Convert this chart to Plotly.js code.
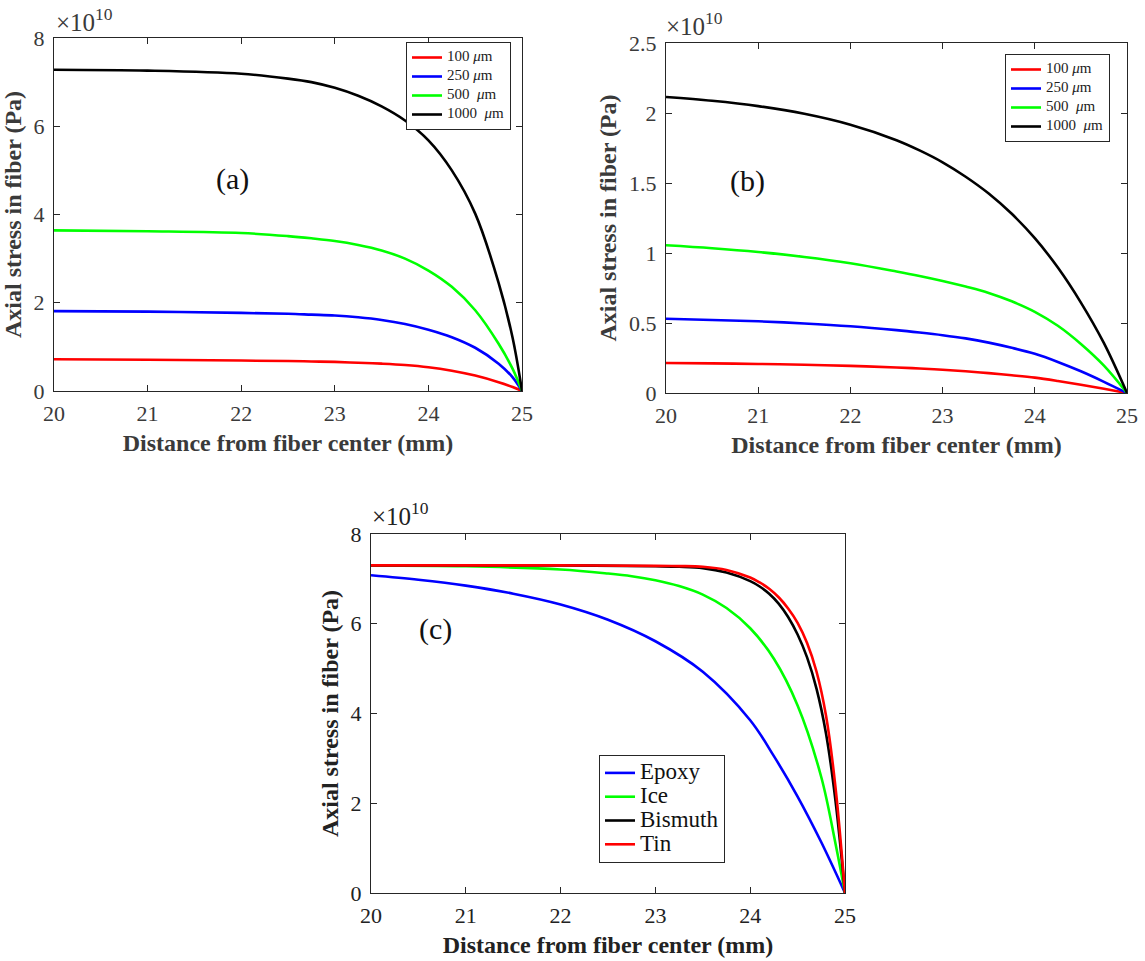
<!DOCTYPE html>
<html>
<head>
<meta charset="utf-8">
<script src="https://cdn.plot.ly/plotly-3.0.1.min.js"></script>
<style>html,body{margin:0;padding:0;background:#fff;}#chart{width:1145px;height:961px;}</style>
</head>
<body>
<div id="chart"></div>
<script>
// Axial stress in units of 1e10 Pa, x = distance from fiber center (mm)

// Panel (a)
const xA = [20, 21, 22, 22.5, 22.75, 23, 23.25, 23.5, 23.75, 24, 24.25, 24.5, 24.75, 24.9, 25];
const a100  = [0.72, 0.71, 0.69, 0.68, 0.67, 0.66, 0.64, 0.62, 0.59, 0.54, 0.46, 0.35, 0.20, 0.09, 0];
const a250  = [1.81, 1.80, 1.77, 1.75, 1.73, 1.71, 1.67, 1.61, 1.52, 1.39, 1.22, 0.98, 0.62, 0.31, 0];
const a500  = [3.64, 3.62, 3.58, 3.51, 3.46, 3.40, 3.31, 3.185, 3.00, 2.73, 2.36, 1.83, 1.07, 0.50, 0];
const a1000 = [7.28, 7.26, 7.19, 7.08, 7.00, 6.87, 6.69, 6.45, 6.13, 5.68, 5.00, 4.02, 2.45, 1.20, 0];

// Panel (b)
const xB = [20, 20.5, 21, 21.5, 22, 22.5, 22.75, 23, 23.25, 23.5, 23.75, 24, 24.25, 24.5, 24.75, 25];
const b100  = [0.214, 0.2115, 0.2075, 0.2015, 0.1935, 0.1825, 0.175, 0.166, 0.155, 0.142, 0.127, 0.110, 0.086, 0.059, 0.030, 0];
const b250  = [0.53, 0.522, 0.512, 0.497, 0.477, 0.449, 0.432, 0.413, 0.39, 0.36, 0.323, 0.28, 0.222, 0.155, 0.08, 0];
const b500  = [1.055, 1.034, 1.007, 0.972, 0.927, 0.868, 0.836, 0.80, 0.76, 0.715, 0.655, 0.58, 0.48, 0.35, 0.195, 0];
const b1000 = [2.114, 2.087, 2.049, 1.994, 1.916, 1.806, 1.733, 1.648, 1.545, 1.425, 1.28, 1.106, 0.896, 0.646, 0.356, 0];

// Panel (c)
const xEpoxy = [20, 20.5, 21, 21.5, 22, 22.5, 23, 23.5, 24, 24.25, 24.5, 24.75, 25];
const epoxy  = [7.08, 6.98, 6.85, 6.67, 6.43, 6.09, 5.61, 4.93, 3.85, 3.05, 2.15, 1.13, 0];
const xIce = [20, 21, 22, 22.5, 22.75, 23, 23.25, 23.5, 23.75, 24, 24.25, 24.5, 24.75, 24.9, 25];
const ice  = [7.30, 7.28, 7.21, 7.12, 7.06, 6.97, 6.84, 6.65, 6.35, 5.90, 5.22, 4.18, 2.58, 1.10, 0];
const xMetal = [20, 21, 22, 23, 23.25, 23.5, 23.75, 24, 24.1, 24.2, 24.3, 24.4, 24.5, 24.6, 24.7, 24.8, 24.9, 25];
const bismuth = [7.30, 7.30, 7.30, 7.28, 7.27, 7.24, 7.14, 6.95, 6.83, 6.67, 6.45, 6.15, 5.76, 5.25, 4.55, 3.55, 2.05, 0];
const tin     = [7.30, 7.30, 7.30, 7.29, 7.285, 7.27, 7.20, 7.03, 6.92, 6.78, 6.59, 6.34, 6.02, 5.57, 4.93, 3.95, 2.35, 0];

const sizeLabels = ['100 <i>μ</i>m', '250 <i>μ</i>m', '500  <i>μ</i>m', '1000  <i>μ</i>m'];
const materialLabels = ['Epoxy', 'Ice', 'Bismuth', 'Tin'];
const xTicks = [20, 21, 22, 23, 24, 25];
const yTicksAC = [0, 2, 4, 6, 8];
const yTicksB = [0, 0.5, 1, 1.5, 2, 2.5];

const RED = '#ff0000', BLUE = '#0000ff', GREEN = '#00ff00', BLACK = '#000000';
const SERIF = 'Liberation Serif, Times New Roman, serif';
const AX = '#262626';

function big(label, px) { return '<span style="font-size:' + px + 'px">' + label + '</span>'; }

function tr(x, y, name, color, xa, ya, leg) {
  return {x: x, y: y, name: name, type: 'scatter', mode: 'lines',
    line: {color: color, width: 2.6, shape: 'spline', smoothing: 1.0},
    xaxis: xa, yaxis: ya, legend: leg, hoverinfo: 'skip'};
}

const data = [
  tr(xA, a100, big(sizeLabels[0], 15), RED, 'x', 'y', 'legend'),
  tr(xA, a250, big(sizeLabels[1], 15), BLUE, 'x', 'y', 'legend'),
  tr(xA, a500, big(sizeLabels[2], 15), GREEN, 'x', 'y', 'legend'),
  tr(xA, a1000, big(sizeLabels[3], 15), BLACK, 'x', 'y', 'legend'),
  tr(xB, b100, big(sizeLabels[0], 15), RED, 'x2', 'y2', 'legend2'),
  tr(xB, b250, big(sizeLabels[1], 15), BLUE, 'x2', 'y2', 'legend2'),
  tr(xB, b500, big(sizeLabels[2], 15), GREEN, 'x2', 'y2', 'legend2'),
  tr(xB, b1000, big(sizeLabels[3], 15), BLACK, 'x2', 'y2', 'legend2'),
  tr(xEpoxy, epoxy, big(materialLabels[0], 23), BLUE, 'x3', 'y3', 'legend3'),
  tr(xIce, ice, big(materialLabels[1], 23), GREEN, 'x3', 'y3', 'legend3'),
  tr(xMetal, bismuth, big(materialLabels[2], 23), BLACK, 'x3', 'y3', 'legend3'),
  tr(xMetal, tin, big(materialLabels[3], 23), RED, 'x3', 'y3', 'legend3')
];

function xaxis(domain, anchor, fs, col) {
  return {domain: domain, anchor: anchor, range: [20, 25], tickvals: xTicks,
    showgrid: false, zeroline: false, showline: true, mirror: 'ticks',
    linecolor: AX, linewidth: 1, ticks: 'inside', ticklen: 6, tickcolor: AX,
    ticklabelstandoff: 3,
    tickfont: {family: SERIF, size: fs, color: col},
    title: {text: '<b>Distance from fiber center (mm)</b>', standoff: 8,
      font: {family: SERIF, size: 24, color: col}}};
}
function yaxis(domain, anchor, range, ticks, fs, col) {
  return {domain: domain, anchor: anchor, range: range, tickvals: ticks,
    showgrid: false, zeroline: false, showline: true, mirror: 'ticks',
    linecolor: AX, linewidth: 1, ticks: 'inside', ticklen: 6, tickcolor: AX,
    ticklabelstandoff: 4,
    tickfont: {family: SERIF, size: fs, color: col},
    title: {text: '<b>Axial stress in fiber (Pa)</b>', standoff: 5,
      font: {family: SERIF, size: 24, color: col}}};
}

const legStyle = {bgcolor: '#fff', bordercolor: AX, borderwidth: 1,
  xanchor: 'left', yanchor: 'top', tracegroupgap: 0, itemwidth: 30};

const layout = {
  width: 1145, height: 961,
  margin: {l: 0, r: 0, t: 0, b: 0},
  paper_bgcolor: '#fff', plot_bgcolor: '#fff',
  showlegend: true,
  xaxis: xaxis([0.04716, 0.45590], 'y', 22, '#3a3a3a'),
  yaxis: yaxis([0.59313, 0.96046], 'x', [0, 8], yTicksAC, 22, '#3a3a3a'),
  xaxis2: xaxis([0.58166, 0.98428], 'y2', 22, '#3a3a3a'),
  yaxis2: yaxis([0.59105, 0.95525], 'x2', [0, 2.5], yTicksB, 22, '#3a3a3a'),
  xaxis3: xaxis([0.32402, 0.73799], 'y3', 22, '#222'),
  yaxis3: yaxis([0.07076, 0.44433], 'x3', [0, 8], yTicksAC, 22, '#222'),
  legend: Object.assign({}, legStyle, {x: 406/1145, y: 1 - 42/961,
    font: {family: SERIF, size: 10, color: '#222'}}),
  legend2: Object.assign({}, legStyle, {x: 1005/1145, y: 1 - 54/961,
    font: {family: SERIF, size: 10, color: '#222'}}),
  legend3: Object.assign({}, legStyle, {x: 599/1145, y: 1 - 755/961,
    font: {family: SERIF, size: 16, color: '#111'}}),
  annotations: [
    {text: '(a)', xref: 'paper', yref: 'paper', x: 214/1145, y: 1 - 160/961, showarrow: false,
      font: {family: SERIF, size: 30, color: '#111'}},
    {text: '(b)', xref: 'paper', yref: 'paper', x: 748/1145, y: 1 - 162/961, showarrow: false,
      font: {family: SERIF, size: 30, color: '#111'}},
    {text: '(c)', xref: 'paper', yref: 'paper', x: 435/1145, y: 1 - 648/961, showarrow: false,
      font: {family: SERIF, size: 30, color: '#111'}},
    {text: '×10<sup>10</sup>', xref: 'paper', yref: 'paper', x: 54/1145, y: 1 - 38/961,
      xanchor: 'left', yanchor: 'bottom', showarrow: false,
      font: {family: SERIF, size: 25, color: '#3a3a3a'}},
    {text: '×10<sup>10</sup>', xref: 'paper', yref: 'paper', x: 664/1145, y: 1 - 42/961,
      xanchor: 'left', yanchor: 'bottom', showarrow: false,
      font: {family: SERIF, size: 25, color: '#3a3a3a'}},
    {text: '×10<sup>10</sup>', xref: 'paper', yref: 'paper', x: 370/1145, y: 1 - 532/961,
      xanchor: 'left', yanchor: 'bottom', showarrow: false,
      font: {family: SERIF, size: 25, color: '#222'}}
  ]
};

Plotly.newPlot('chart', data, layout, {displayModeBar: false, staticPlot: true});
</script>
</body>
</html>
